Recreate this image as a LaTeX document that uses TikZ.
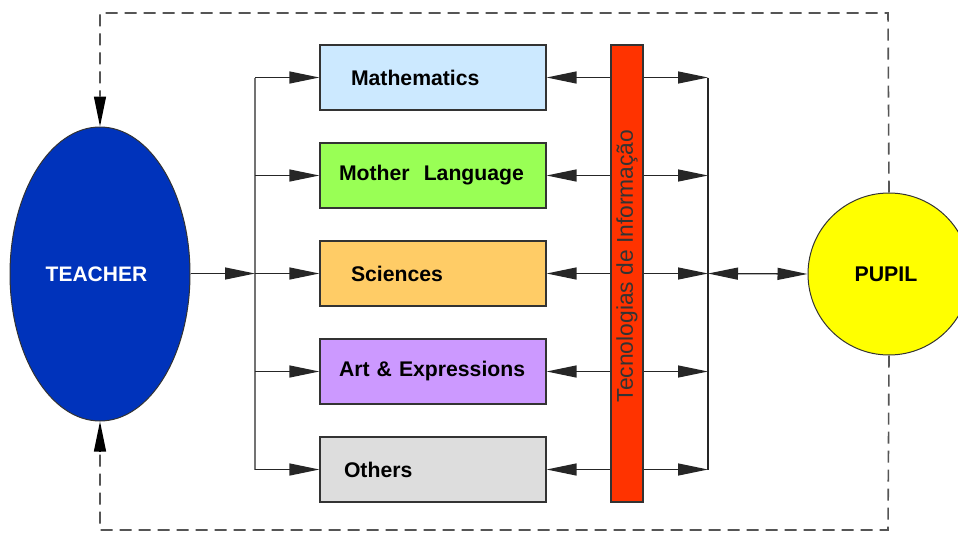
\documentclass[tikz,border=0pt]{standalone}
\usepackage{fontspec}
\setmainfont{Liberation Sans}
\usetikzlibrary{shapes.geometric,arrows.meta}
\definecolor{mathblue}{HTML}{CCE9FF}
\definecolor{langgreen}{HTML}{99FF55}
\definecolor{sciorange}{HTML}{FFCC66}
\definecolor{artviolet}{HTML}{CC99FF}
\definecolor{othergray}{HTML}{DDDDDD}
\definecolor{ticred}{HTML}{FF3300}
\definecolor{teacherblue}{HTML}{0033BB}
\definecolor{pupilyellow}{HTML}{FFFF00}
\definecolor{edgegray}{HTML}{333333}
\definecolor{dashgray}{HTML}{555555}
\begin{document}
\begin{tikzpicture}[x=1pt,y=-1pt,
  tip/.style={-{Triangle[length=30pt,width=12pt]}},
  twotip/.style={{Triangle[length=30pt,width=12pt]}-{Triangle[length=30pt,width=12pt]}},
  wire/.style={draw=black!85, line width=1.3pt},
  dashwire/.style={draw=dashgray, line width=1.6pt, dash pattern=on 12pt off 7pt},
  subject/.style={draw=edgegray, line width=1.2pt, minimum height=65pt,
    text width=226pt, inner xsep=0pt, align=left,
    font=\fontsize{21.2}{24}\selectfont\bfseries},
  bar/.style={draw=edgegray, line width=1.2pt, fill=ticred,
    minimum width=32pt, minimum height=457pt, inner sep=0pt}]
\useasboundingbox (0,0) rectangle (958,533);

% actors
\node[ellipse, draw=edgegray, line width=1pt, fill=teacherblue,
  minimum width=180pt, minimum height=294pt, inner sep=0pt,
  text=white, font=\fontsize{21}{24}\selectfont\bfseries] (teacher) at (100,274)
  {\hspace*{-7pt}TEACHER};
\node[circle, draw=edgegray, line width=1pt, fill=pupilyellow,
  minimum size=162pt, inner sep=0pt,
  font=\fontsize{21.3}{24}\selectfont\bfseries] (pupil) at (889,274) {\hspace*{-6pt}PUPIL};

% subject areas
\node[subject, fill=mathblue]   (math)   at (433,77.5)  {\hspace*{31pt}Mathematics};
\node[subject, fill=langgreen]  (lang)   at (433,175.5) {\hspace*{19pt}Mother\ \ Language};
\node[subject, fill=sciorange]  (sci)    at (433,273.5) {\hspace*{31pt}Sciences};
\node[subject, fill=artviolet]  (art)    at (433,371.5) {\hspace*{19pt}Art \& Expressions};
\node[subject, fill=othergray]  (others) at (433,469.5) {\hspace*{24pt}Others};

% information technology bar
\node[bar] (tic) at (627,273.5) {};
\node[rotate=90, text=black!80, font=\fontsize{22.8}{25}\selectfont] (ticlabel) at (627,266) {Tecnologias de Informação};

% distribution buses
\coordinate (lbtop) at (255,77.5);
\coordinate (lbbot) at (255,469.5);
\coordinate (lbmid) at (255,273.5);
\coordinate (rbtop) at (708,77.5);
\coordinate (rbbot) at (708,469.5);
\coordinate (rbmid) at (708,273.5);
\draw[wire, draw=black!55] (lbtop) -- (lbbot);
\draw[wire] (rbtop) -- (rbbot);

\draw[wire, tip] (teacher.east |- lbmid) -- (lbmid);
\foreach \s in {math,lang,sci,art,others} {
  \draw[wire, tip] (lbtop |- \s.west) -- (\s.west);
  \draw[wire, tip] (tic.west |- \s.east) -- (\s.east);
  \draw[wire, tip] (tic.east |- \s.east) -- (rbtop |- \s.east);
}
\draw[wire, twotip] (rbmid) -- (pupil.west);

% feedback loops
\coordinate (tl) at (100,13);
\coordinate (tr) at (888,13);
\coordinate (bl) at (100,530);
\coordinate (br) at (888,530);
\coordinate (tin) at ([yshift=30pt]teacher.north);
\coordinate (bin) at ([yshift=-30pt]teacher.south);
\draw[dashwire] (pupil.north) -- (tr) -- (tl) -- (tin);
\draw[dashwire] (pupil.south) -- (br) -- (bl) -- (bin);
\draw[wire, draw=black, tip] (tin) -- (teacher.north);
\draw[wire, draw=black, tip] (bin) -- (teacher.south);
\end{tikzpicture}
\end{document}
